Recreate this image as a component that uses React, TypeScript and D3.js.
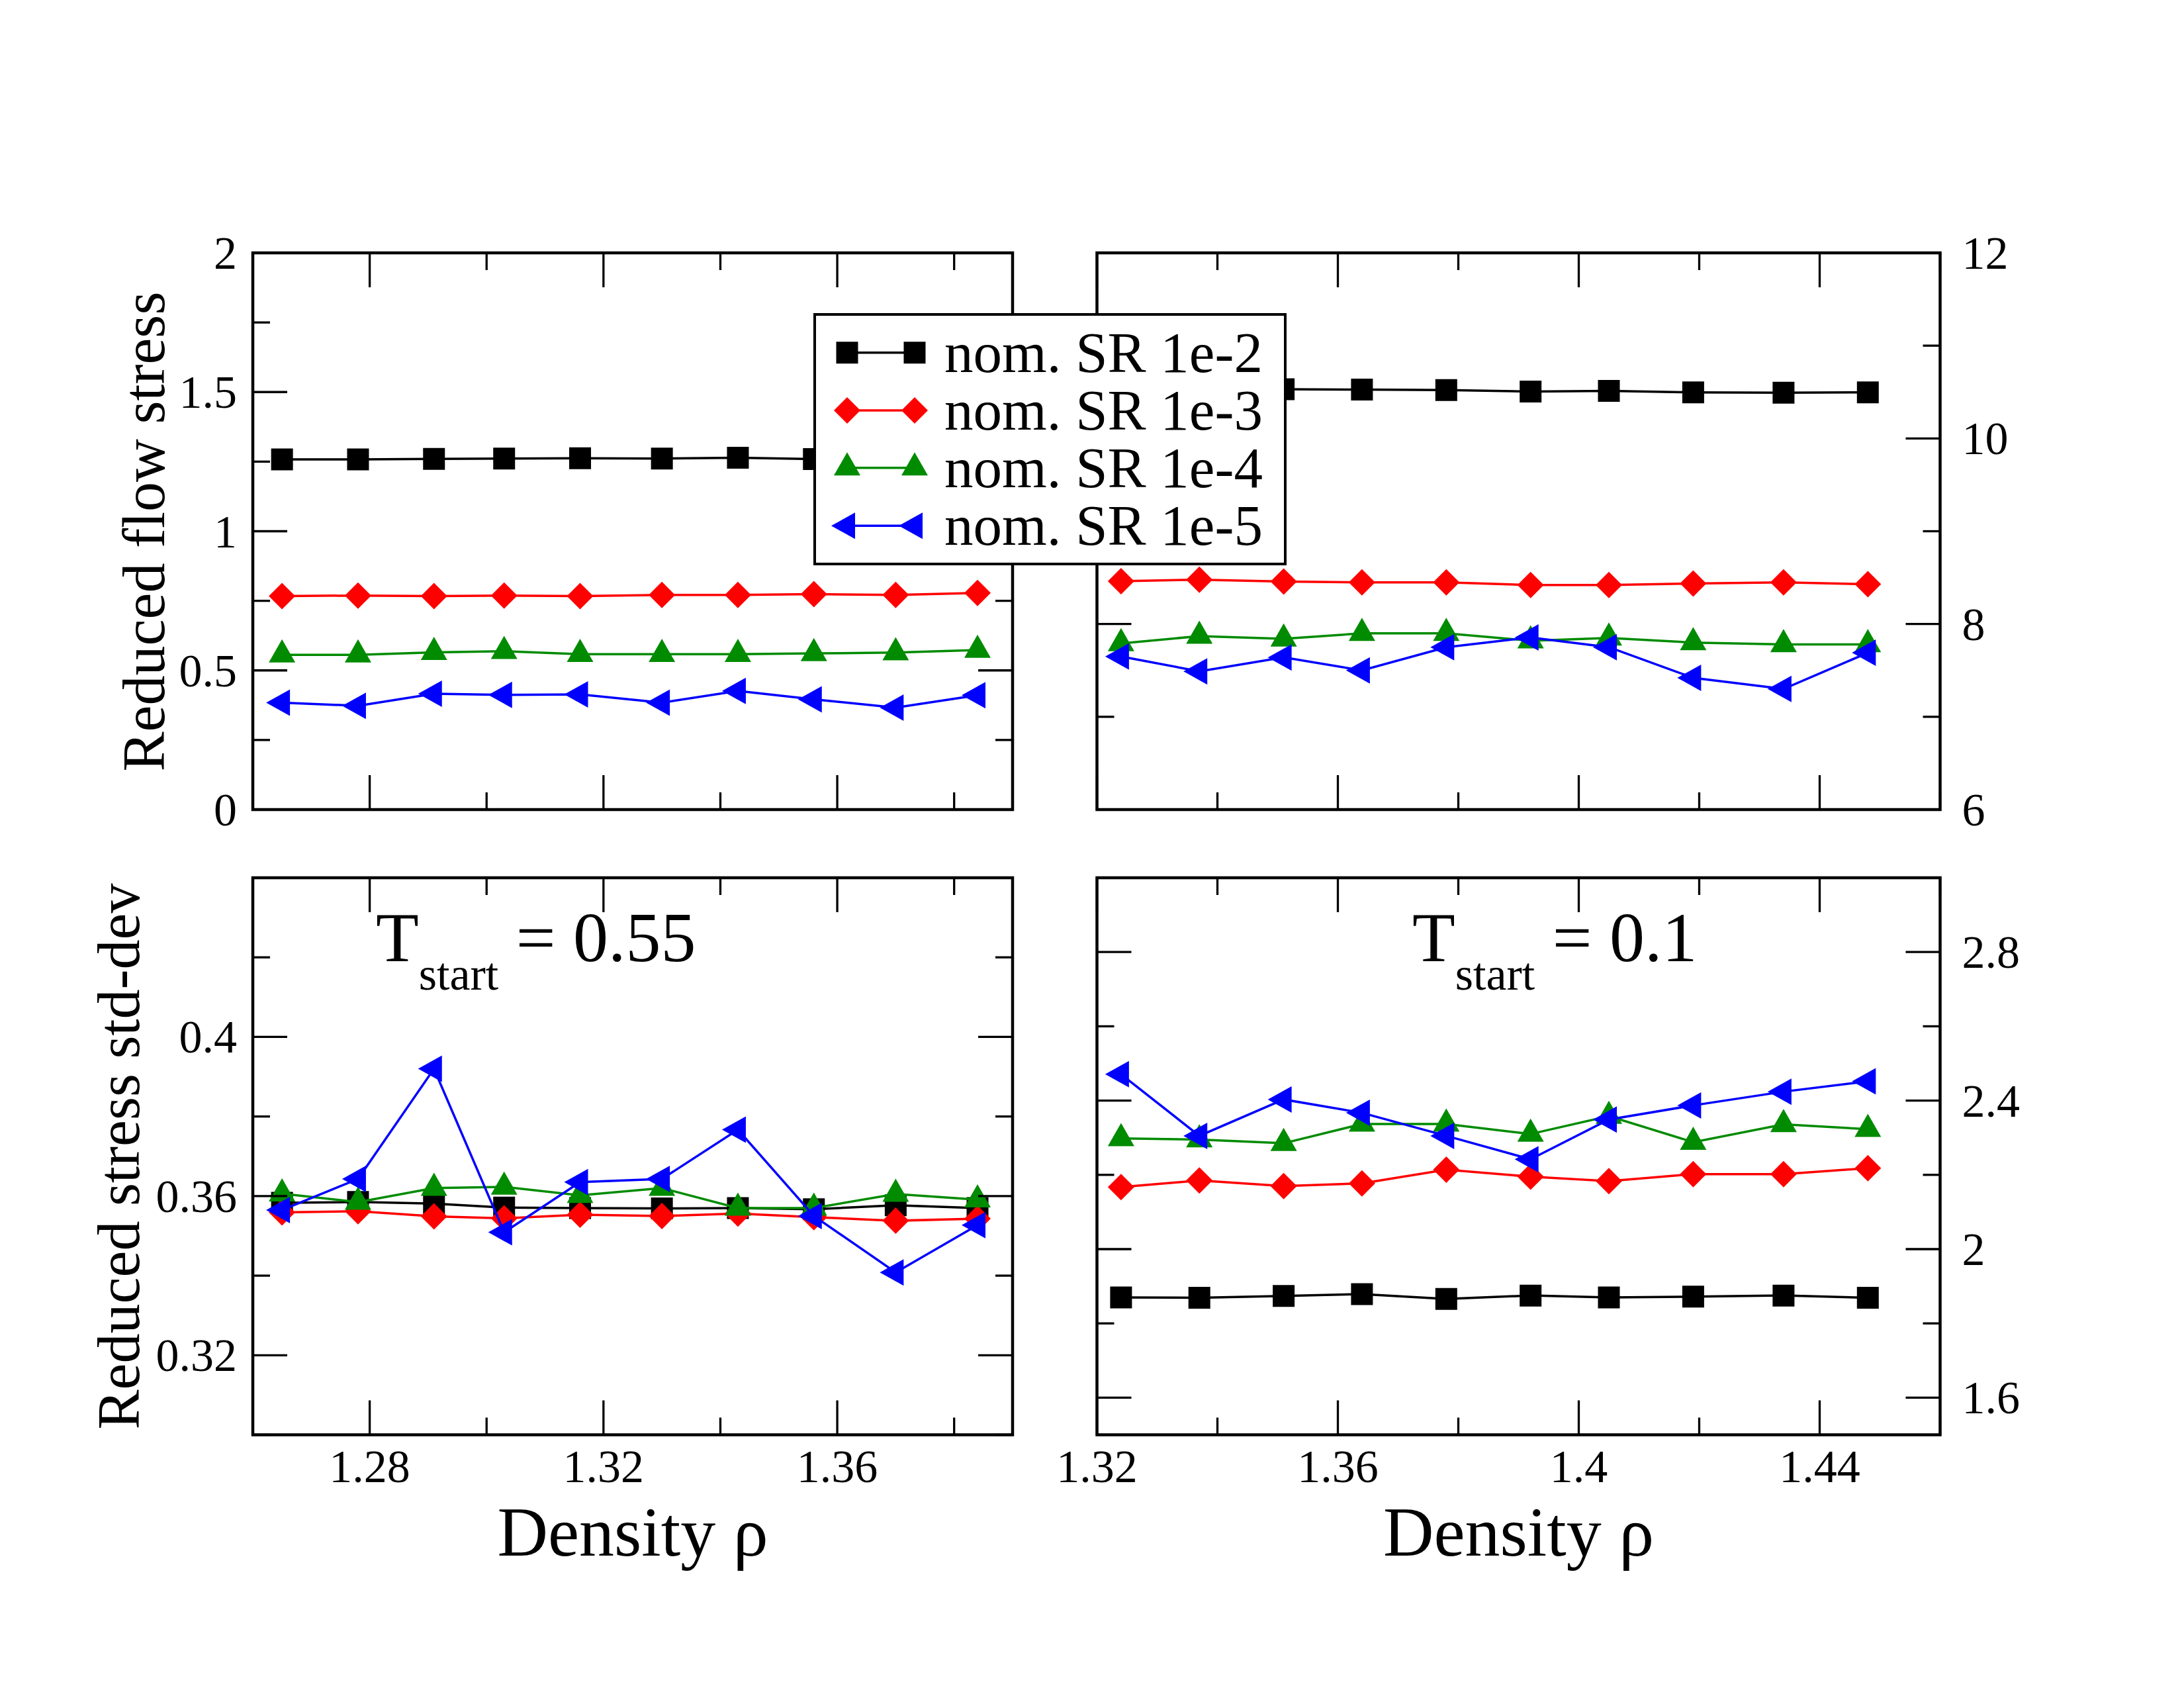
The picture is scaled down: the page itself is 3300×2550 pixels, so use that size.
import React from 'react';
import * as d3 from 'd3';

const W = 3300;
const H = 2550;
const FONT = '"Liberation Serif", "Times New Roman", Times, serif';

// Densities of the two state points
const densityT055 = [1.265, 1.278, 1.291, 1.303, 1.316, 1.330, 1.343, 1.356, 1.370, 1.384];
const densityT01 = [1.324, 1.337, 1.351, 1.364, 1.378, 1.392, 1.405, 1.419, 1.434, 1.448];

// Reduced flow stress, T_start = 0.55
const flowT055_1e2 = [1.258, 1.258, 1.260, 1.261, 1.262, 1.261, 1.264, 1.259, 1.260, 1.260];
const flowT055_1e3 = [0.767, 0.769, 0.767, 0.769, 0.767, 0.771, 0.771, 0.774, 0.771, 0.778];
const flowT055_1e4 = [0.556, 0.556, 0.565, 0.569, 0.558, 0.558, 0.558, 0.561, 0.564, 0.573];
const flowT055_1e5 = [0.384, 0.373, 0.416, 0.412, 0.414, 0.384, 0.426, 0.396, 0.366, 0.411];

// Reduced flow stress, T_start = 0.1
const flowT01_1e2 = [10.53, 10.53, 10.53, 10.526, 10.522, 10.505, 10.513, 10.497, 10.493, 10.497];
const flowT01_1e3 = [8.461, 8.478, 8.457, 8.449, 8.449, 8.42, 8.42, 8.437, 8.449, 8.429];
const flowT01_1e4 = [7.79, 7.87, 7.84, 7.9, 7.9, 7.82, 7.85, 7.8, 7.78, 7.78];
const flowT01_1e5 = [7.65, 7.49, 7.64, 7.5, 7.75, 7.855, 7.75, 7.42, 7.3, 7.69];

// Reduced stress standard deviation, T_start = 0.55
const stdT055_1e2 = [0.3583, 0.3585, 0.3581, 0.3571, 0.357, 0.3569, 0.357, 0.3567, 0.3577, 0.357];
const stdT055_1e3 = [0.3559, 0.3562, 0.3549, 0.3544, 0.3553, 0.355, 0.3556, 0.3547, 0.3538, 0.3543];
const stdT055_1e4 = [0.3606, 0.3585, 0.362, 0.3623, 0.3602, 0.362, 0.357, 0.357, 0.3605, 0.3591];
const stdT055_1e5 = [0.3565, 0.3643, 0.392, 0.3509, 0.3635, 0.3643, 0.3767, 0.355, 0.3408, 0.3527];

// Reduced stress standard deviation, T_start = 0.1
const stdT01_1e2 = [1.87, 1.869, 1.874, 1.879, 1.866, 1.875, 1.87, 1.872, 1.875, 1.869];
const stdT01_1e3 = [2.167, 2.185, 2.17, 2.177, 2.214, 2.195, 2.183, 2.202, 2.202, 2.218];
const stdT01_1e4 = [2.298, 2.295, 2.285, 2.337, 2.337, 2.31, 2.358, 2.288, 2.336, 2.323];
const stdT01_1e5 = [2.471, 2.305, 2.403, 2.367, 2.305, 2.242, 2.349, 2.387, 2.424, 2.452];

const seriesNames = ['nom. SR 1e-2', 'nom. SR 1e-3', 'nom. SR 1e-4', 'nom. SR 1e-5'];
const seriesColors = ['#000000', '#ff0000', '#008b00', '#0000ff'];
const seriesShapes = ['square', 'diamond', 'triangleUp', 'triangleLeft'];

// Axis ticks and labels
const xMajorT055 = [1.28, 1.32, 1.36];
const xMinorT055 = [1.26, 1.30, 1.34, 1.38];
const xLabelsT055 = ['1.28', '1.32', '1.36'];
const xMajorT01 = [1.32, 1.36, 1.40, 1.44];
const xMinorT01 = [1.34, 1.38, 1.42, 1.46];
const xLabelsT01 = ['1.32', '1.36', '1.4', '1.44'];

const yMajorFlowT055 = [0, 0.5, 1, 1.5, 2];
const yMinorFlowT055 = [0.25, 0.75, 1.25, 1.75];
const yLabelsFlowT055 = ['0', '0.5', '1', '1.5', '2'];
const yMajorFlowT01 = [6, 8, 10, 12];
const yMinorFlowT01 = [7, 9, 11];
const yLabelsFlowT01 = ['6', '8', '10', '12'];
const yMajorStdT055 = [0.32, 0.36, 0.40];
const yMinorStdT055 = [0.30, 0.34, 0.38, 0.42];
const yLabelsStdT055 = ['0.32', '0.36', '0.4'];
const yMajorStdT01 = [1.6, 2.0, 2.4, 2.8];
const yMinorStdT01 = [1.8, 2.2, 2.6, 3.0];
const yLabelsStdT01 = ['1.6', '2', '2.4', '2.8'];

type PanelSpec = {
  key: string;
  left: number;
  right: number;
  top: number;
  bottom: number;
  xDomain: [number, number];
  yDomain: [number, number];
  xMajor: number[];
  xMinor: number[];
  xLabels: string[] | null;
  yMajor: number[];
  yMinor: number[];
  yLabels: string[];
  ySide: 'left' | 'right';
  xs: number[];
  series: number[][];
};

const COL_L = [382, 1530];
const COL_R = [1657.5, 2931.5];
const ROW_T = [382, 1223];
const ROW_B = [1326, 2167.5];

const panels: PanelSpec[] = [
  {
    key: 'flow055', left: COL_L[0], right: COL_L[1], top: ROW_T[0], bottom: ROW_T[1],
    xDomain: [1.26, 1.39], yDomain: [0, 2],
    xMajor: xMajorT055, xMinor: xMinorT055, xLabels: null,
    yMajor: yMajorFlowT055, yMinor: yMinorFlowT055, yLabels: yLabelsFlowT055, ySide: 'left',
    xs: densityT055, series: [flowT055_1e2, flowT055_1e3, flowT055_1e4, flowT055_1e5],
  },
  {
    key: 'flow01', left: COL_R[0], right: COL_R[1], top: ROW_T[0], bottom: ROW_T[1],
    xDomain: [1.32, 1.46], yDomain: [6, 12],
    xMajor: xMajorT01, xMinor: xMinorT01, xLabels: null,
    yMajor: yMajorFlowT01, yMinor: yMinorFlowT01, yLabels: yLabelsFlowT01, ySide: 'right',
    xs: densityT01, series: [flowT01_1e2, flowT01_1e3, flowT01_1e4, flowT01_1e5],
  },
  {
    key: 'std055', left: COL_L[0], right: COL_L[1], top: ROW_B[0], bottom: ROW_B[1],
    xDomain: [1.26, 1.39], yDomain: [0.30, 0.44],
    xMajor: xMajorT055, xMinor: xMinorT055, xLabels: xLabelsT055,
    yMajor: yMajorStdT055, yMinor: yMinorStdT055, yLabels: yLabelsStdT055, ySide: 'left',
    xs: densityT055, series: [stdT055_1e2, stdT055_1e3, stdT055_1e4, stdT055_1e5],
  },
  {
    key: 'std01', left: COL_R[0], right: COL_R[1], top: ROW_B[0], bottom: ROW_B[1],
    xDomain: [1.32, 1.46], yDomain: [1.5, 3.0],
    xMajor: xMajorT01, xMinor: xMinorT01, xLabels: xLabelsT01,
    yMajor: yMajorStdT01, yMinor: yMinorStdT01, yLabels: yLabelsStdT01, ySide: 'right',
    xs: densityT01, series: [stdT01_1e2, stdT01_1e3, stdT01_1e4, stdT01_1e5],
  },
];

const MAJOR_LEN = 52;
const MINOR_LEN = 26;
const TICK_W = 3.3;
const FRAME_W = 4.5;
const LINE_W = 3.5;
const TICK_FONT = 70;

function markerPath(shape: string, x: number, y: number): string {
  switch (shape) {
    case 'square': {
      const h = 16.5;
      return `M${x - h},${y - h}H${x + h}V${y + h}H${x - h}Z`;
    }
    case 'diamond': {
      const h = 20;
      return `M${x},${y - h}L${x + h},${y}L${x},${y + h}L${x - h},${y}Z`;
    }
    case 'triangleUp': {
      const hw = 20;
      const ht = 35;
      return `M${x},${y - (2 * ht) / 3}L${x + hw},${y + ht / 3}L${x - hw},${y + ht / 3}Z`;
    }
    default: {
      const wd = 36;
      const hh = 20;
      return `M${x - (2 * wd) / 3},${y}L${x + wd / 3},${y - hh}L${x + wd / 3},${y + hh}Z`;
    }
  }
}

function Panel({ p }: { p: PanelSpec }) {
  const x = d3.scaleLinear().domain(p.xDomain).range([p.left, p.right]);
  const y = d3.scaleLinear().domain(p.yDomain).range([p.bottom, p.top]);
  const line = d3
    .line<[number, number]>()
    .x((d) => x(d[0]))
    .y((d) => y(d[1]));

  const ticks: JSX.Element[] = [];
  const addX = (v: number, len: number, k: string) => {
    const px = x(v);
    ticks.push(<line key={`xb${k}`} x1={px} x2={px} y1={p.bottom} y2={p.bottom - len} />);
    ticks.push(<line key={`xt${k}`} x1={px} x2={px} y1={p.top} y2={p.top + len} />);
  };
  const addY = (v: number, len: number, k: string) => {
    const py = y(v);
    ticks.push(<line key={`yl${k}`} x1={p.left} x2={p.left + len} y1={py} y2={py} />);
    ticks.push(<line key={`yr${k}`} x1={p.right} x2={p.right - len} y1={py} y2={py} />);
  };
  p.xMajor.forEach((v, i) => addX(v, MAJOR_LEN, `M${i}`));
  p.xMinor.forEach((v, i) => addX(v, MINOR_LEN, `m${i}`));
  p.yMajor.forEach((v, i) => addY(v, MAJOR_LEN, `M${i}`));
  p.yMinor.forEach((v, i) => addY(v, MINOR_LEN, `m${i}`));

  return (
    <g>
      {p.series.map((vals, si) => {
        const pts: [number, number][] = p.xs.map((xv, i) => [xv, vals[i]]);
        return (
          <g key={si}>
            <path d={line(pts) || ''} fill="none" stroke={seriesColors[si]} strokeWidth={LINE_W} strokeLinejoin="miter" />
            {pts.map((d, i) => (
              <path key={i} d={markerPath(seriesShapes[si], x(d[0]), y(d[1]))} fill={seriesColors[si]} stroke="none" />
            ))}
          </g>
        );
      })}
      <g stroke="#000" strokeWidth={TICK_W}>{ticks}</g>
      <rect
        x={p.left}
        y={p.top}
        width={p.right - p.left}
        height={p.bottom - p.top}
        fill="none"
        stroke="#000"
        strokeWidth={FRAME_W}
      />
      <g fontFamily={FONT} fontSize={TICK_FONT} fill="#000">
        {p.yMajor.map((v, i) =>
          p.ySide === 'left' ? (
            <text key={`yl${i}`} x={p.left - 24} y={y(v) + 24} textAnchor="end">
              {p.yLabels[i]}
            </text>
          ) : (
            <text key={`yl${i}`} x={p.right + 33} y={y(v) + 24} textAnchor="start">
              {p.yLabels[i]}
            </text>
          )
        )}
        {p.xLabels &&
          p.xMajor.map((v, i) => (
            <text key={`xl${i}`} x={x(v)} y={p.bottom + 71} textAnchor="middle">
              {p.xLabels![i]}
            </text>
          ))}
      </g>
    </g>
  );
}

function Legend() {
  const left = 1231;
  const top = 475;
  const width = 711;
  const height = 377;
  const rowY = [532.7, 620, 706.7, 794.3];
  const symL = 1280;
  const symR = 1382;
  return (
    <g>
      <rect x={left} y={top} width={width} height={height} fill="#fff" stroke="#000" strokeWidth={4} />
      {seriesNames.map((name, i) => (
        <g key={name}>
          <line x1={symL} x2={symR} y1={rowY[i]} y2={rowY[i]} stroke={seriesColors[i]} strokeWidth={LINE_W} />
          <path d={markerPath(seriesShapes[i], symL, rowY[i])} fill={seriesColors[i]} />
          <path d={markerPath(seriesShapes[i], symR, rowY[i])} fill={seriesColors[i]} />
          <text x={1427} y={rowY[i] + 29} fontFamily={FONT} fontSize={87} fill="#000">
            {name}
          </text>
        </g>
      ))}
    </g>
  );
}

function TStart({ x, value }: { x: number; value: string }) {
  return (
    <text x={x} y={1452} fontFamily={FONT} fontSize={106} fill="#000" style={{ whiteSpace: 'pre' }}>
      <tspan>T</tspan>
      <tspan dy={43} fontSize={70}>start</tspan>
      <tspan dy={-43}>{` = ${value}`}</tspan>
    </text>
  );
}

export default function App() {
  return (
    <svg
      width={W}
      height={H}
      viewBox={`0 0 ${W} ${H}`}
      style={{ position: 'absolute', left: 0, top: 0, background: '#fff', display: 'block' }}
    >
      <rect x={0} y={0} width={W} height={H} fill="#fff" />
      {panels.map((p) => (
        <Panel key={p.key} p={p} />
      ))}
      <TStart x={568} value="0.55" />
      <TStart x={2134} value="0.1" />
      <g fontFamily={FONT} fill="#000">
        <text transform="translate(248,803) rotate(-90)" textAnchor="middle" fontSize={90}>
          Reduced flow stress
        </text>
        <text transform="translate(210,1747) rotate(-90)" textAnchor="middle" fontSize={90}>
          Reduced stress std-dev
        </text>
        <text x={(COL_L[0] + COL_L[1]) / 2} y={2350} textAnchor="middle" fontSize={106}>
          Density ρ
        </text>
        <text x={(COL_R[0] + COL_R[1]) / 2} y={2350} textAnchor="middle" fontSize={106}>
          Density ρ
        </text>
      </g>
      <Legend />
    </svg>
  );
}
